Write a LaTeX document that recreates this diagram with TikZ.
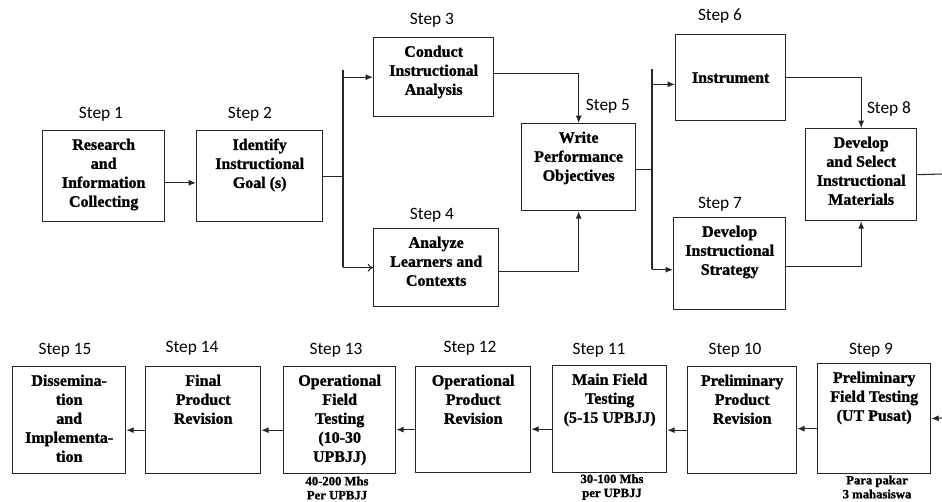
\documentclass[tikz,border=0pt]{standalone}
\usepackage{fontspec}
\setmainfont[BoldFeatures={FakeBold=1.2}]{Liberation Serif}
\newfontfamily\stepfont{Carlito}
\usetikzlibrary{arrows.meta,calc,positioning}

\newdimen\pxu \pxu=0.75pt
% box text: [pos]{width px}{height px}{text}
\newcommand{\boxtxt}[4][t]{%
  \begin{minipage}[t][#3\pxu][#1]{#2\pxu}\centering
  \fontsize{12}{14.25}\selectfont\bfseries
  \ifx t#1\vspace*{6pt}\fi #4\end{minipage}}

\tikzset{
  stepbox/.style={draw=black!85, line width=1pt, inner sep=0pt, anchor=north west},
  steplabel/.style={font=\stepfont\fontsize{13}{15}\selectfont},
  note/.style={align=center, font=\bfseries\fontsize{9.5}{10.5}\selectfont},
  link/.style={draw=black!85, line width=0.8pt},
  arr/.style={link, -{Latex[length=5.5pt,width=4.5pt]}},
  openarr/.style={link, -{To[length=4pt,width=6pt]}}
}

\begin{document}
\begin{tikzpicture}[x=0.75pt, y=-0.75pt]
  \useasboundingbox (0,0) rectangle (942,501);

  % === Top row: steps 1-8 ===
  \node[stepbox] (b1) at (42,130) {\boxtxt{122}{91}{Research\\and\\Information\\Collecting}};
  \node[stepbox] (b2) at (196,130) {\boxtxt{126}{91}{Identify\\Instructional\\Goal (s)}};
  \node[stepbox] (b3) at (373,37) {\boxtxt{120}{79}{Conduct\\Instructional\\Analysis}};
  \node[stepbox] (b4) at (373,228) {\boxtxt{125}{78}{Analyze\\Learners and\\Contexts}};
  \node[stepbox] (b5) at (521,123) {\boxtxt{114}{87}{Write\\Performance\\Objectives}};
  \node[stepbox] (b6) at (675,34) {\boxtxt[c]{110}{86}{Instrument}};
  \node[stepbox] (b7) at (673,217) {\boxtxt{112}{92}{Develop\\Instructional\\Strategy}};
  \node[stepbox] (b8) at (805,128) {\boxtxt{111}{92}{Develop\\and Select\\Instructional\\Materials}};

  % Step labels
  \node[steplabel] (s1) at (101,114) {Step 1};
  \node[steplabel] (s2) at (250,114) {Step 2};
  \node[steplabel] (s3) at (432,20) {Step 3};
  \node[steplabel] (s4) at (432,215) {Step 4};
  \node[steplabel] (s5) at (608,106) {Step 5};
  \node[steplabel] (s6) at (720,16) {Step 6};
  \node[steplabel] (s7) at (720,204) {Step 7};
  \node[steplabel] (s8) at (889,109) {Step 8};

  % Branch points
  \coordinate (j1t) at (343,70);
  \coordinate (j1b) at (343,267);
  \coordinate (j2t) at (652,69);
  \coordinate (j2b) at (652,269);
  \coordinate (out8) at (942,174);

  \draw[arr] ([yshift=-5pt]b1.east) -- ([yshift=-5pt]b2.west);
  \draw[link] (b2.east) -- (b2.east -| j1t);
  \draw[link] (j1t) -- (j1b);
  \draw[arr] (b3.west -| j1t) -- (b3.west);
  \draw[openarr] (b4.west -| j1t) -- (b4.west);
  \draw[arr] ([yshift=3pt]b3.east) -| (b5.north);
  \draw[arr] ([yshift=-3pt]b4.east) -| (b5.south);
  \draw[link] ([yshift=-2pt]b5.east) -- ([yshift=-2pt]b5.east -| j2t);
  \draw[link] (j2t) -- (j2b);
  \draw[arr] ([yshift=-5pt]b6.west -| j2t) -- ([yshift=-5pt]b6.west);
  \draw[arr] ([yshift=-4.5pt]b7.west -| j2t) -- ([yshift=-4.5pt]b7.west);
  \draw[arr] (b6.east) -| (b8.north);
  \draw[arr] ([yshift=-2pt]b7.east) -| (b8.south);
  \draw[link] (b8.east) -- (out8);

  % === Bottom row: steps 9-15 (right to left) ===
  \node[stepbox] (b9) at (817,363) {\boxtxt{113}{110}{Preliminary\\Field Testing\\(UT Pusat)}};
  \node[stepbox] (b10) at (687,366) {\boxtxt{109}{107}{Preliminary\\Product\\Revision}};
  \node[stepbox] (b11) at (552,365) {\boxtxt{114}{107}{Main Field\\Testing\\(5-15 UPBJJ)}};
  \node[stepbox] (b12) at (415,366) {\boxtxt{115}{106}{Operational\\Product\\Revision}};
  \node[stepbox] (b13) at (283,366) {\boxtxt{112}{107}{Operational\\Field\\Testing\\(10-30\\UPBJJ)}};
  \node[stepbox] (b14) at (145,366) {\boxtxt{115}{107}{Final\\Product\\Revision}};
  \node[stepbox] (b15) at (12,366) {\boxtxt{113}{107}{Dissemina-\\tion\\and\\Implementa-\\tion}};

  \node[steplabel] (s9) at (871,350) {Step 9};
  \node[steplabel] (s10) at (735,350) {Step 10};
  \node[steplabel] (s11) at (599,350) {Step 11};
  \node[steplabel] (s12) at (470,348) {Step 12};
  \node[steplabel] (s13) at (336,350) {Step 13};
  \node[steplabel] (s14) at (192,348) {Step 14};
  \node[steplabel] (s15) at (65,350) {Step 15};

  % Notes under boxes
  \node[note] (n9) at (877,487) {Para pakar\\3 mahasiswa};
  \node[note] (n11) at (612,487) {30-100 Mhs\\per UPBJJ};
  \node[note] (n13) at (337,488) {40-200 Mhs\\Per UPBJJ};

  \coordinate (in9) at (942,418);
  \draw[arr] (in9) -- (b9.east);
  \foreach \a/\b in {b9/b10, b10/b11, b11/b12, b12/b13, b13/b14, b14/b15} {
    \draw[arr] ([yshift=-7.5pt]\a.west) -- ([yshift=-7.5pt]\a.west -| \b.east);
  }
\end{tikzpicture}
\end{document}
